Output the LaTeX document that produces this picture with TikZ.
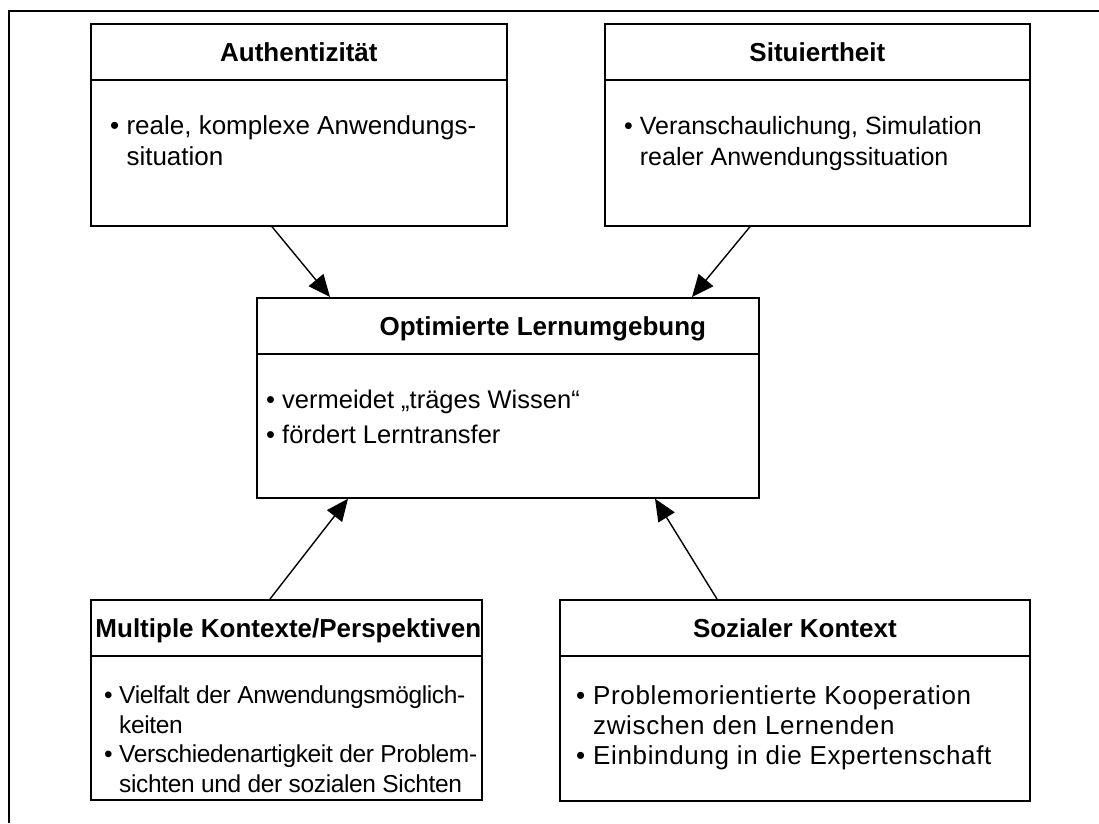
\documentclass[tikz,border=0pt]{standalone}
\usepackage{fontspec}
\setmainfont{Liberation Sans}
\usetikzlibrary{arrows.meta,calc}
\begin{document}
\begin{tikzpicture}[x=1pt,y=-1pt,
  box/.style={draw, line width=1.7pt, rectangle, inner sep=0pt, anchor=north west},
  ttl/.style={font=\fontsize{26}{30}\selectfont\bfseries, anchor=base, inner sep=0pt},
  body/.style={anchor=base west, align=left, inner sep=0pt},
  sepline/.style={line width=1.7pt},
  arr/.style={line width=1.4pt, -{Triangle[length=22pt,width=19pt]}},
  frameline/.style={line width=1.4pt}]
\useasboundingbox (0,0) rectangle (1099,823);
\draw[frameline] (9,823) -- (9,11) -- (1099,11);

% boxes
\node[box, minimum width=416pt, minimum height=202pt] (auth) at (90,23) {};
\node[box, minimum width=425pt, minimum height=202pt] (sit) at (604,23) {};
\node[box, minimum width=502pt, minimum height=200pt] (opt) at (256,297) {};
\node[box, minimum width=391pt, minimum height=200pt] (mult) at (90,599) {};
\node[box, minimum width=470pt, minimum height=201pt] (soz) at (559,599) {};

% separators
\foreach \b in {auth,sit,opt,mult,soz}
  \draw[sepline] ($(\b.north west)+(0,57)$) -- ($(\b.north east)+(0,57)$);

% titles
\node[ttl] (authT) at ($(auth.north)+(0,38)$) {Authentizität};
\node[ttl] (sitT) at ($(sit.north)+(0,38)$) {Situiertheit};
\node[ttl] (optT) at ($(opt.north)+(35,38)$) {Optimierte Lernumgebung};
\node[ttl] (multT) at ($(mult.north)+(2,38)$) {Multiple Kontexte/Perspektiven};
\node[ttl] (sozT) at ($(soz.north)+(0,38)$) {Sozialer Kontext};

% bodies (anchored at the baseline of their last line)
\node[body, font=\fontsize{26}{31.5}\selectfont] (authB) at ($(auth.north west)+(20,142.5)$)
  {• reale, komplexe Anwendungs-\\\hphantom{• }situation};
\node[body, font=\fontsize{25}{31.5}\selectfont] (sitB) at ($(sit.north west)+(20,142.5)$)
  {• Veranschaulichung, Simulation\\\hphantom{• }realer Anwendungssituation};
\node[body, font=\fontsize{25.5}{31}\selectfont] (optB) at ($(opt.north west)+(10,146)$)
  {• vermeidet „träges Wissen“\\[4pt]• fördert Lerntransfer};
\node[body, font=\fontsize{24.5}{29.5}\selectfont\addfontfeature{LetterSpace=-1.5}] (multB) at ($(mult.north west)+(14,193)$)
  {• Vielfalt der Anwendungsmöglich-\\\hphantom{• }keiten\\• Verschiedenartigkeit der Problem-\\\hphantom{• }sichten und der sozialen Sichten};
\node[body, font=\fontsize{26}{30}\selectfont\addfontfeature{LetterSpace=2.5}] (sozB) at ($(soz.north west)+(17,165)$)
  {• Problemorientierte Kooperation\\\hphantom{• }zwischen den Lernenden\\• Einbindung in die Expertenschaft};

% connectors
\draw[arr] ($(auth.south west)+(182,0)$) -- ($(opt.north west)+(74,0)$);
\draw[arr] ($(sit.south west)+(146,0)$) -- ($(opt.north west)+(436,0)$);
\draw[arr] ($(mult.north west)+(180,0)$) -- ($(opt.south west)+(92,0)$);
\draw[arr] ($(soz.north west)+(158,0)$) -- ($(opt.south west)+(399,0)$);
\end{tikzpicture}
\end{document}
